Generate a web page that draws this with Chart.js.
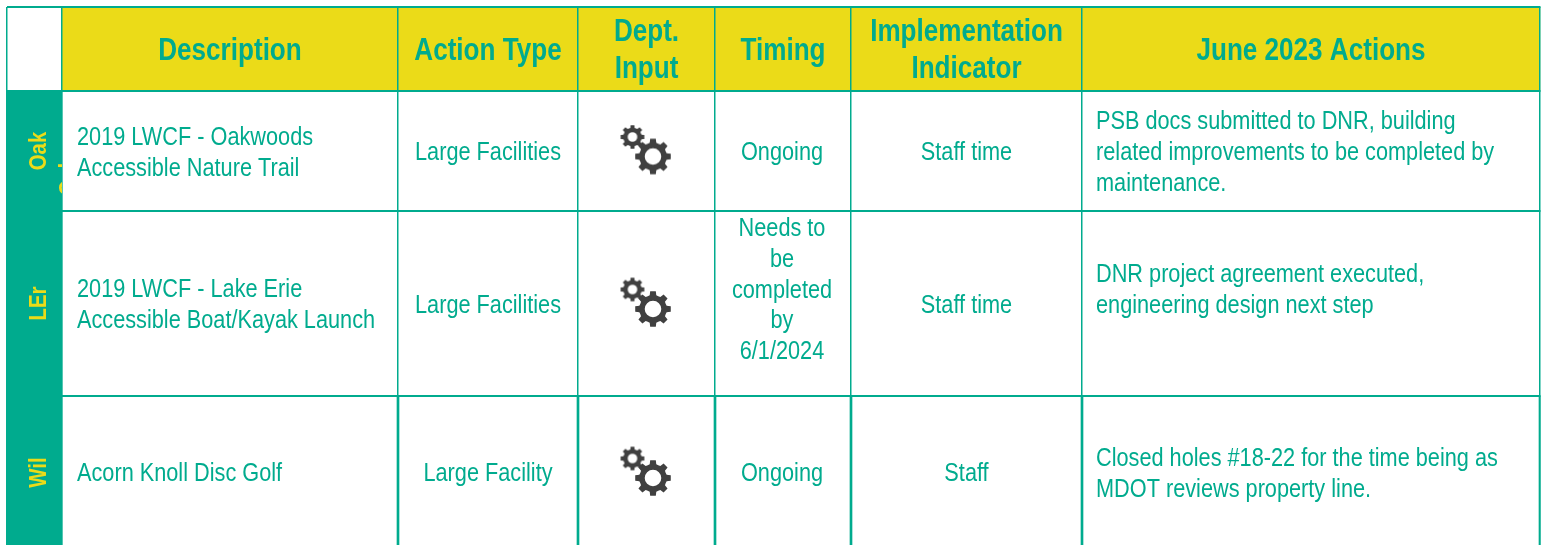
<!DOCTYPE html>
<html>
<head>
<meta charset="utf-8">
<title>June 2023 Actions</title>
<script src="https://cdn.jsdelivr.net/npm/chart.js@4"></script>
<style>
  html, body { margin: 0; padding: 0; background: #fff; }
  #tabla { display: block; }
</style>
</head>
<body>
<canvas id="tabla" width="1542" height="545"></canvas>
<script>
// Contenido de la tabla
const headers = [['Description'], ['Action Type'], ['Dept.', 'Input'], ['Timing'], ['Implementation', 'Indicator'], ['June 2023 Actions']];
// La segunda linea de Oak queda casi toda fuera de la celda en el original
const rowLabels = [['Oak', 'Oakwoo'], ['LEr'], ['Wil']];
const descriptions = [['2019 LWCF - Oakwoods', 'Accessible Nature Trail'], ['2019 LWCF - Lake Erie', 'Accessible Boat/Kayak Launch'], ['Acorn Knoll Disc Golf']];
const actionTypes = [['Large Facilities'], ['Large Facilities'], ['Large Facility']];
const timings = [['Ongoing'], ['Needs to', 'be', 'completed', 'by', '6/1/2024'], ['Ongoing']];
const indicators = [['Staff time'], ['Staff time'], ['Staff']];
const juneActions = [
  ['PSB docs submitted to DNR, building', 'related improvements to be completed by', 'maintenance.'],
  ['DNR project agreement executed,', 'engineering design next step'],
  ['Closed holes #18-22 for the time being as', 'MDOT reviews property line.']
];

// Geometria de la rejilla (las escalas van en pixeles de la pagina)
const colEdges = [7, 62, 398, 578, 715, 851, 1082, 1540];
const rowEdges = [7, 91, 211, 396];
const tableBottom = 549;
// Ajuste vertical de las celdas: general y las que en el original no van centradas
const bodyShift = [2, 2, 1];
const timingShift = [2, -13, 1];
const juneShift = [2, -13, 2];

const TEAL = '#00ab8e';
const YELLOW = '#ebdb18';
const GEAR = '#404040';
const FONT = '"Liberation Sans", Arial, sans-serif';

function rowMid(i) {
  const edges = rowEdges.concat([tableBottom]);
  return (edges[i + 1] + edges[i + 2]) / 2;
}
function colMid(i) {
  return (colEdges[i] + colEdges[i + 1]) / 2;
}

// Engranaje como imagen para usar de pointStyle
function crearEngranaje(radio, dientes, hueco) {
  const s = radio * 2 + 4;
  const c = document.createElement('canvas');
  c.width = s;
  c.height = s;
  const g = c.getContext('2d');
  g.translate(s / 2, s / 2);
  g.fillStyle = GEAR;
  g.beginPath();
  const paso = Math.PI * 2 / dientes;
  for (let i = 0; i < dientes; i++) {
    const a = i * paso - Math.PI / 2;
    const pts = [[-0.5, 0.76], [-0.3, 0.78], [-0.2, 1], [0.2, 1], [0.3, 0.78]];
    pts.forEach(p => {
      const ang = a + p[0] * paso;
      g.lineTo(Math.cos(ang) * radio * p[1], Math.sin(ang) * radio * p[1]);
    });
  }
  g.closePath();
  g.moveTo(radio * hueco, 0);
  g.arc(0, 0, radio * hueco, 0, Math.PI * 2, true);
  g.fill('evenodd');
  return c;
}

// Texto de las celdas, colocado con las escalas
const textoTabla = {
  id: 'textoTabla',
  afterDraw(chart) {
    const { ctx, scales: { x, y } } = chart;
    // La fuente original es estrecha: se comprime en horizontal
    const lineas = (txt, cx, cy, alto, align, estrecho) => {
      ctx.textAlign = align;
      txt.forEach((t, i) => {
        ctx.save();
        ctx.translate(x.getPixelForValue(cx), y.getPixelForValue(cy + (i - (txt.length - 1) / 2) * alto));
        ctx.scale(estrecho, 1);
        ctx.fillText(t, 0, 0);
        ctx.restore();
      });
    };
    ctx.save();
    ctx.textBaseline = 'middle';
    ctx.fillStyle = TEAL;
    ctx.font = 'bold 32px ' + FONT;
    headers.forEach((h, i) => lineas(h, colMid(i + 1), 51, 37, 'center', 0.815));
    ctx.font = '26px ' + FONT;
    rowLabels.forEach((_, r) => {
      lineas(descriptions[r], colEdges[1] + 15, rowMid(r) + bodyShift[r], 31, 'left', 0.835);
      lineas(actionTypes[r], colMid(2), rowMid(r) + bodyShift[r], 31, 'center', 0.835);
      lineas(timings[r], colMid(4) - 1, rowMid(r) + timingShift[r], 30.7, 'center', 0.835);
      lineas(indicators[r], colMid(5), rowMid(r) + bodyShift[r], 31, 'center', 0.835);
      lineas(juneActions[r], colEdges[6] + 14, rowMid(r) + juneShift[r], 31, 'left', 0.835);
    });
    // Etiquetas giradas de la primera columna; la segunda linea queda cortada por la celda
    ctx.fillStyle = YELLOW;
    ctx.font = 'bold 24px ' + FONT;
    ctx.textAlign = 'center';
    ctx.textBaseline = 'alphabetic';
    const base = x.getPixelForValue(colMid(0)) + 11;
    ctx.beginPath();
    ctx.rect(x.getPixelForValue(colEdges[0]), y.getPixelForValue(rowEdges[1]), colEdges[1] - colEdges[0], tableBottom - rowEdges[1]);
    ctx.clip();
    rowLabels.forEach((l, r) => {
      l.forEach((t, i) => {
        ctx.save();
        ctx.translate(base + i * 30, y.getPixelForValue(rowMid(r) + i * 5));
        ctx.rotate(-Math.PI / 2);
        ctx.scale(0.85, 1);
        ctx.fillText(t, 0, 0);
        ctx.restore();
      });
    });
    ctx.restore();
  }
};

const gearRows = rowLabels.map((_, r) => rowMid(r));

new Chart(document.getElementById('tabla'), {
  type: 'bar',
  data: {
    datasets: [
      {
        label: 'header',
        indexAxis: 'y',
        data: [{ y: (rowEdges[0] + rowEdges[1]) / 2, x: [colEdges[1], colEdges[7]] }],
        backgroundColor: YELLOW,
        barThickness: rowEdges[1] - rowEdges[0]
      },
      {
        label: 'rowLabels',
        indexAxis: 'y',
        data: [{ y: (rowEdges[1] + tableBottom) / 2, x: [colEdges[0], colEdges[1]] }],
        backgroundColor: TEAL,
        barThickness: tableBottom - rowEdges[1]
      },
      {
        // En la ultima fila las lineas verticales son algo mas gruesas
        label: 'lastRowLines',
        indexAxis: 'y',
        data: colEdges.slice(2).map(e => ({ y: (rowEdges[3] + tableBottom) / 2, x: [e - 1, e + 1] })),
        backgroundColor: TEAL,
        barThickness: tableBottom - rowEdges[3]
      },
      {
        type: 'scatter',
        label: 'gearSmall',
        indexAxis: 'x',
        data: gearRows.map(v => ({ x: colMid(3) - 14, y: v - 14 })),
        pointStyle: crearEngranaje(12, 8, 0.4)
      },
      {
        type: 'scatter',
        label: 'gearBig',
        indexAxis: 'x',
        data: gearRows.map(v => ({ x: colMid(3) + 6.5, y: v + 5.5 })),
        pointStyle: crearEngranaje(18, 8, 0.46)
      }
    ]
  },
  options: {
    indexAxis: 'y',
    responsive: false,
    animation: false,
    events: [],
    layout: { autoPadding: false, padding: { left: 7, top: 7, right: 1.5, bottom: 0 } },
    plugins: { legend: { display: false }, tooltip: { enabled: false } },
    scales: {
      x: {
        type: 'linear',
        min: 7,
        max: 1540.5,
        stacked: false,
        afterBuildTicks: s => { s.ticks = colEdges.map(v => ({ value: v })); },
        grid: { color: TEAL, lineWidth: 1.5, drawTicks: false, z: 1 },
        border: { display: false },
        ticks: { display: false }
      },
      y: {
        type: 'linear',
        reverse: true,
        offset: false,
        min: 7,
        max: 545,
        stacked: true,
        afterBuildTicks: s => { s.ticks = rowEdges.map(v => ({ value: v })); },
        grid: { color: TEAL, lineWidth: 2, offset: false, drawTicks: false, z: 1 },
        border: { display: false },
        ticks: { display: false }
      }
    }
  },
  plugins: [textoTabla]
});
</script>
</body>
</html>
